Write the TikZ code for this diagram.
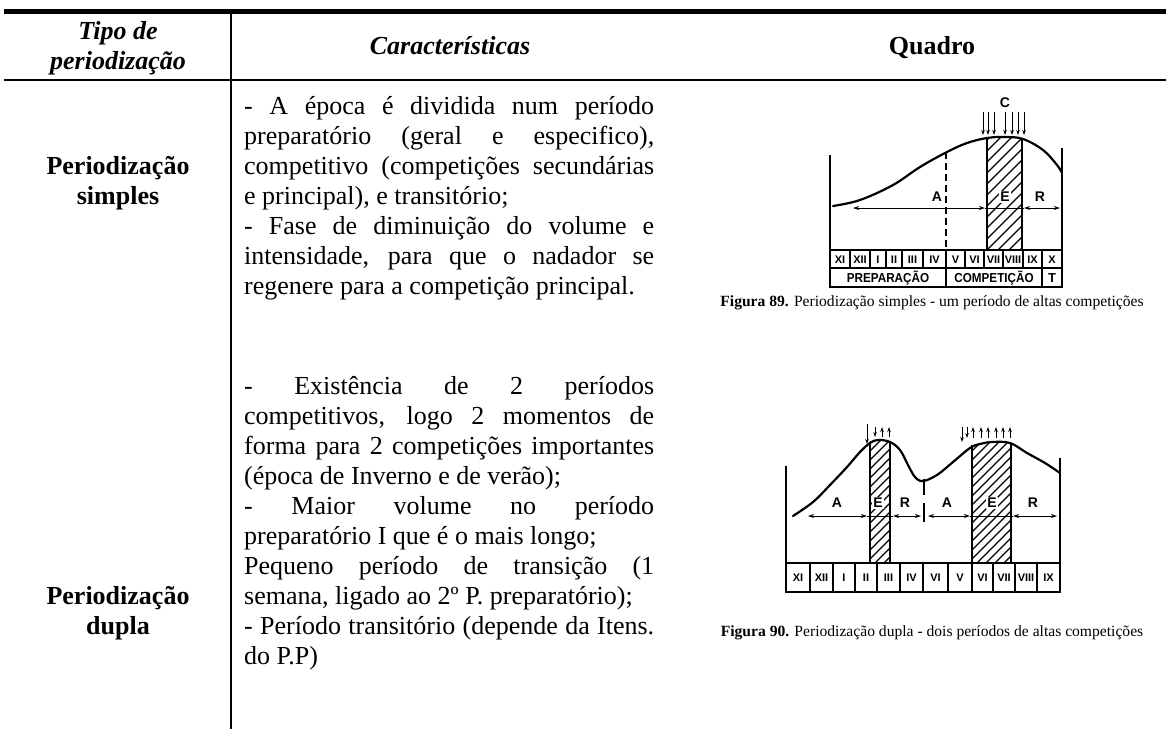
\documentclass[tikz,border=0pt]{standalone}
\usepackage{fontspec}
\setmainfont{Liberation Serif}
\newfontfamily\figsans{Liberation Sans}
\usetikzlibrary{arrows.meta}
\newcommand\jline[1]{\makebox[410pt][s]{#1}}
\tikzset{
  bodytxt/.style={font=\fontsize{26}{30}\selectfont, anchor=base west, inner sep=0pt},
  hdrtxt/.style={font=\fontsize{26}{30}\selectfont\bfseries\itshape, anchor=base, inner sep=0pt},
  rowtxt/.style={font=\fontsize{26}{30}\selectfont\bfseries, anchor=base, inner sep=0pt},
  captxt/.style={font=\fontsize{15.6}{18}\selectfont, inner sep=0pt},
  figline/.style={line width=1.6pt},
  curveline/.style={line width=2.2pt, line cap=round},
  hatchline/.style={line width=1.3pt},
  arrline/.style={line width=1pt, {Stealth[length=6pt,width=4pt]}-{Stealth[length=6pt,width=4pt]}},
  darr/.style={line width=1pt, -{Stealth[length=5pt,width=3.5pt]}},
  monthlbl/.style={font=\figsans\bfseries\fontsize{11}{11}\selectfont, inner sep=0pt},
  bigl/.style={font=\figsans\bfseries\fontsize{14}{14}\selectfont, inner sep=1pt},
}
\begin{document}
\begin{tikzpicture}[x=1pt,y=-1pt]
\useasboundingbox (0,0) rectangle (1166,729);
\fill[white] (0,0) rectangle (1166,729);
% table rules
\draw[line width=5pt] (4,11) -- (1166,11);
\draw[line width=1.2pt] (4,80) -- (1166,80);
\draw[line width=2pt] (231,13.5) -- (231,729);
% header
\node[hdrtxt] (h1a) at (118,39) {Tipo de};
\node[hdrtxt] (h1b) at (118,69) {periodização};
\node[hdrtxt] (h2) at (450,54) {Características};
\node[rowtxt] (h3) at (932,54) {Quadro};
% row labels
\node[rowtxt] (r1a) at (118,174) {Periodização};
\node[rowtxt] (r1b) at (118,204) {simples};
\node[rowtxt] (r2a) at (118,604) {Periodização};
\node[rowtxt] (r2b) at (118,634) {dupla};
% paragraph 1
\node[bodytxt] (p1a) at (244,114) {\jline{- A época é dividida num período}};
\node[bodytxt] (p1b) at (244,144) {\jline{preparatório (geral e especifico),}};
\node[bodytxt] (p1c) at (244,174) {\jline{competitivo (competições secundárias}};
\node[bodytxt] (p1d) at (244,204) {e principal), e transitório;};
\node[bodytxt] (p1e) at (244,234) {\jline{- Fase de diminuição do volume e}};
\node[bodytxt] (p1f) at (244,264) {\jline{intensidade, para que o nadador se}};
\node[bodytxt] (p1g) at (244,294) {regenere para a competição principal.};
% paragraph 2
\node[bodytxt] (p2a) at (244,394) {\jline{- Existência de 2 períodos}};
\node[bodytxt] (p2b) at (244,424) {\jline{competitivos, logo 2 momentos de}};
\node[bodytxt] (p2c) at (244,454) {\jline{forma para 2 competições importantes}};
\node[bodytxt] (p2d) at (244,484) {(época de Inverno e de verão);};
\node[bodytxt] (p2e) at (244,514) {\jline{- Maior volume no período}};
\node[bodytxt] (p2f) at (244,544) {preparatório I que é o mais longo;};
\node[bodytxt] (p2g) at (244,574) {\jline{Pequeno período de transição (1}};
\node[bodytxt] (p2h) at (244,604) {semana, ligado ao 2º P. preparatório);};
\node[bodytxt] (p2i) at (244,634) {\jline{- Período transitório (depende da Itens.}};
\node[bodytxt] (p2j) at (244,664) {do P.P)};

% ================= Figure 1 =================
\begin{scope}
\clip (987,138) rectangle (1022,250);
\foreach \i in {-121,-110,...,40} \draw[hatchline] (987+\i,250) -- ++(125,-125);
\end{scope}
\draw[figline] (987,138) -- (987,250);
\draw[figline] (1022,138) -- (1022,250);
\draw[figline] (830,155) -- (830,287) -- (1062,287) -- (1062,148);
\draw[figline] (830,250) -- (1062,250);
\draw[figline] (830,268) -- (1062,268);
\foreach \x in {850,870,886,902,923,946,965,984,1003,1023,1042}
  \draw[figline] (\x,250) -- (\x,268);
\draw[figline] (946,268) -- (946,287);
\draw[figline] (1042,268) -- (1042,287);
\draw[line width=1.3pt, dash pattern=on 7pt off 4pt] (946,152) -- (946,250);
\draw[curveline] plot[smooth, tension=0.6] coordinates {(833,206) (860,200) (893,185) (920,167) (947,152) (967,143) (987,138) (1005,137) (1023,139) (1043,150) (1057,165) (1062,173)};
\draw[arrline] (853,208) -- (985,208);
\draw[line width=1pt] (985,208) -- (1024,208);
\draw[arrline] (1024,208) -- (1060,208);
\foreach \x in {983,988,994,1005,1012,1018,1024} \draw[darr] (\x,112) -- (\x,135);
\node[bigl] (f1c) at (1005,103) {C};
\node[bigl] (f1a) at (937,197) {A};
\node[bigl, fill=white] (f1e) at (1005,197) {E};
\node[bigl] (f1r) at (1040,197) {R};
\foreach \x/\t [count=\i] in {840/XI,860/XII,878/I,894/II,912.5/III,934.5/IV,955.5/V,974.5/VI,993.5/VII,1013/VIII,1032.5/IX,1052/X}
  \node[monthlbl] (fa\i) at (\x,259.5) {\t};
\node[monthlbl, font=\figsans\bfseries\fontsize{13}{13}\selectfont, xscale=0.9] (fprep) at (888,278) {PREPARAÇÃO};
\node[monthlbl, font=\figsans\bfseries\fontsize{13}{13}\selectfont, xscale=0.9] (fcomp) at (994,278) {COMPETIÇÃO};
\node[monthlbl, font=\figsans\bfseries\fontsize{13}{13}\selectfont] (ftr) at (1052,278) {T};
\node[captxt] (cap1) at (932,303) {\textbf{Figura 89.} Periodização simples - um período de altas competições};

% ================= Figure 2 =================
\begin{scope}
\clip (870,441) rectangle (890,563);
\foreach \i in {-130,-121,...,30} \draw[hatchline] (870+\i,563) -- ++(130,-130);
\end{scope}
\begin{scope}
\clip (972,443) rectangle (1011,563);
\foreach \i in {-130,-121,...,50} \draw[hatchline] (972+\i,563) -- ++(130,-130);
\end{scope}
\draw[figline] (870,442) -- (870,563);
\draw[figline] (890,442) -- (890,563);
\draw[figline] (972,445) -- (972,563);
\draw[figline] (1011,443) -- (1011,563);
\draw[figline] (786,466) -- (786,592) -- (1060,592) -- (1060,458);
\draw[figline] (786,563) -- (1060,563);
\foreach \x in {810,833,855,877,900,923,948,972,993,1015,1037}
  \draw[figline] (\x,563) -- (\x,592);
\draw[curveline] plot[smooth, tension=0.6] coordinates {(793,516) (813,502) (830,485) (847,467) (860,452) (870,443) (878,440) (890,442) (900,450) (908,465) (915,477) (923,481) (937,475) (953,462) (970,448) (980,444) (992,442) (1010,443) (1027,453) (1045,463) (1060,473)};
\draw[figline] (924,479) -- (924,495);
\draw[figline] (924,503) -- (924,522);
\draw[arrline] (808,516) -- (867,516);
\draw[line width=1pt] (867,516) -- (893,516);
\draw[arrline] (893,516) -- (921,516);
\draw[arrline] (928,516) -- (970,516);
\draw[line width=1pt] (970,516) -- (1013,516);
\draw[arrline] (1013,516) -- (1057,516);
\draw[darr] (867,424) -- (867,444);
\draw[darr] (875,427) -- (875,437);
\foreach \x in {882,889} \draw[darr] (\x,437) -- (\x,427);
\draw[darr] (962,427) -- (962,442);
\draw[darr] (967,427) -- (967,438);
\foreach \x in {973,981,988,996,1003,1010} \draw[darr] (\x,438) -- (\x,427);
\node[bigl] (g1a) at (837,503) {A};
\node[bigl, fill=white] (g1e) at (878,503) {E};
\node[bigl] (g1r) at (905,503) {R};
\node[bigl] (g2a) at (947,503) {A};
\node[bigl, fill=white] (g2e) at (992,503) {E};
\node[bigl] (g2r) at (1033,503) {R};
\foreach \x/\t [count=\i] in {798/XI,821.5/XII,844/I,866/II,888.5/III,911.5/IV,935.5/VI,960/V,982.5/VI,1004/VII,1026/VIII,1048.5/IX}
  \node[monthlbl] (ga\i) at (\x,578) {\t};
\node[captxt] (cap2) at (932,633) {\textbf{Figura 90.} Periodização dupla - dois períodos de altas competições};
\end{tikzpicture}
\end{document}
